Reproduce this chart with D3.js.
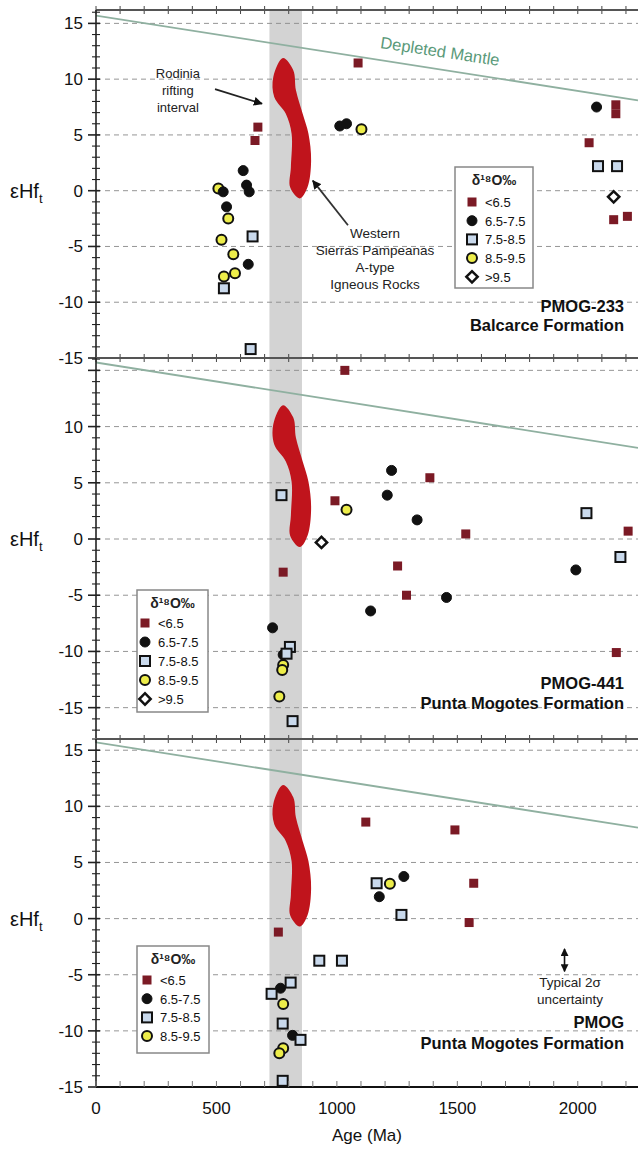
<!DOCTYPE html>
<html>
<head>
<meta charset="utf-8">
<script src="https://cdn.jsdelivr.net/npm/d3@7"></script>
<style>
  body { margin: 0; background: #fff; }
  text { font-family: "Liberation Sans", Arial, sans-serif; }
</style>
</head>
<body>
<div id="container"></div>
<script>
// ---- data: [age (Ma), eHf(t), d18O class] ----
const ageTicks = [0, 500, 1000, 1500, 2000];
const o18Classes = ["<6.5", "6.5-7.5", "7.5-8.5", "8.5-9.5", ">9.5"];
const rodiniaInterval = [720, 855];
const depletedMantle = [[0, 15.7], [2250, 8.1]];

// Western Sierras Pampeanas A-type field outline
const wspField = [
  [776, 11.9], [819, 10.8], [830, 9.0], [858, 6.9], [882, 5.1], [893, 2.7],
  [878, 0.3], [846, -0.7], [806, 0.3], [809, 2.1], [812, 5.1], [788, 6.9],
  [740, 8.4], [736, 10.2]
];

const pmog233 = [
  [672, 5.7, "<6.5"], [660, 4.5, "<6.5"], [1088, 11.45, "<6.5"],
  [2047, 4.3, "<6.5"], [2158, 7.7, "<6.5"], [2158, 6.9, "<6.5"],
  [2149, -2.6, "<6.5"], [2206, -2.3, "<6.5"],
  [611, 1.8, "6.5-7.5"], [625, 0.5, "6.5-7.5"], [636, -0.1, "6.5-7.5"],
  [632, -6.6, "6.5-7.5"], [1012, 5.8, "6.5-7.5"], [1040, 6.0, "6.5-7.5"],
  [2078, 7.5, "6.5-7.5"],
  [650, -4.1, "7.5-8.5"], [531, -8.75, "7.5-8.5"], [642, -14.2, "7.5-8.5"],
  [2084, 2.2, "7.5-8.5"], [2163, 2.2, "7.5-8.5"],
  [508, 0.2, "8.5-9.5"], [549, -2.5, "8.5-9.5"], [521, -4.4, "8.5-9.5"],
  [570, -5.7, "8.5-9.5"], [577, -7.4, "8.5-9.5"], [531, -7.7, "8.5-9.5"],
  [1102, 5.5, "8.5-9.5"],
  [528, -0.1, "6.5-7.5"], [542, -1.45, "6.5-7.5"],
  [2149, -0.55, ">9.5"]
];

const pmog441 = [
  [1033, 15.0, "<6.5"], [777, -2.95, "<6.5"], [992, 3.4, "<6.5"],
  [1386, 5.45, "<6.5"], [1535, 0.45, "<6.5"], [2209, 0.7, "<6.5"],
  [1252, -2.4, "<6.5"], [1289, -5.0, "<6.5"], [2160, -10.1, "<6.5"],
  [733, -7.9, "6.5-7.5"], [777, -10.3, "6.5-7.5"], [1227, 6.1, "6.5-7.5"],
  [1209, 3.9, "6.5-7.5"], [1333, 1.7, "6.5-7.5"], [1992, -2.75, "6.5-7.5"],
  [1455, -5.2, "6.5-7.5"], [1140, -6.4, "6.5-7.5"],
  [770, 3.9, "7.5-8.5"], [805, -9.6, "7.5-8.5"], [791, -10.2, "7.5-8.5"],
  [816, -16.2, "7.5-8.5"], [2036, 2.3, "7.5-8.5"], [2177, -1.6, "7.5-8.5"],
  [777, -11.2, "8.5-9.5"], [773, -11.65, "8.5-9.5"], [761, -14.0, "8.5-9.5"],
  [1040, 2.6, "8.5-9.5"],
  [936, -0.3, ">9.5"]
];

const pmog = [
  [757, -1.2, "<6.5"], [1120, 8.6, "<6.5"], [1490, 7.9, "<6.5"],
  [1568, 3.15, "<6.5"], [1549, -0.35, "<6.5"],
  [766, -6.2, "6.5-7.5"], [816, -10.4, "6.5-7.5"], [1278, 3.75, "6.5-7.5"],
  [1176, 1.95, "6.5-7.5"],
  [808, -5.7, "7.5-8.5"], [729, -6.7, "7.5-8.5"], [775, -9.35, "7.5-8.5"],
  [849, -10.8, "7.5-8.5"], [775, -14.45, "7.5-8.5"], [927, -3.75, "7.5-8.5"],
  [1021, -3.75, "7.5-8.5"], [1165, 3.15, "7.5-8.5"], [1268, 0.33, "7.5-8.5"],
  [777, -7.6, "8.5-9.5"], [777, -11.55, "8.5-9.5"], [761, -12.0, "8.5-9.5"],
  [1220, 3.1, "8.5-9.5"]
];

// ---- layout ----
const width = 638, height = 1149;
const left = 96, right = 638;

const svg = d3.select("#container")
  .append("svg")
  .attr("width", width)
  .attr("height", height);

const defs = svg.append("defs");
defs.append("marker")
  .attr("id", "arrow")
  .attr("viewBox", "0 0 10 10")
  .attr("refX", 9).attr("refY", 5)
  .attr("markerWidth", 5).attr("markerHeight", 5)
  .attr("orient", "auto-start-reverse")
  .append("path")
  .attr("d", "M0,0L10,5L0,10z")
  .attr("fill", "#111");

const x = d3.scaleLinear().domain([0, 2250]).range([left, right]);

const style = {
  "<6.5":    { shape: "square",  size: 9,  fill: "#7b1a25", stroke: "none", sw: 0 },
  "6.5-7.5": { shape: "circle",  size: 10, fill: "#111",    stroke: "#111", sw: 1 },
  "7.5-8.5": { shape: "square",  size: 10, fill: "#c9d9ec", stroke: "#111", sw: 2 },
  "8.5-9.5": { shape: "circle",  size: 10, fill: "#eded4a", stroke: "#111", sw: 2 },
  ">9.5":    { shape: "diamond", size: 8,  fill: "#fff",    stroke: "#111", sw: 2.5 }
};

function mark(g, cls, cx, cy) {
  const s = style[cls];
  let el;
  if (s.shape === "circle") {
    el = g.append("circle").attr("cx", cx).attr("cy", cy).attr("r", s.size / 2);
  } else {
    el = g.append("rect")
      .attr("x", cx - s.size / 2).attr("y", cy - s.size / 2)
      .attr("width", s.size).attr("height", s.size);
    if (s.shape === "diamond") el.attr("transform", `rotate(45,${cx},${cy})`);
  }
  el.attr("fill", s.fill).attr("stroke", s.stroke).attr("stroke-width", s.sw);
}

const panels = [
  { id: "p1", data: pmog233, top: 10, bottom: 358, domain: [-15, 16.2], maxLabel: 15,
    label: ["PMOG-233", "Balcarce Formation"], labelY: [312, 331],
    legend: { x: 455, y: 167, w: 78, h: 121, sym: 472, txt: 485, first: 202, step: 18.7, n: 5 } },
  { id: "p2", data: pmog441, top: 358, bottom: 738, domain: [-17.7, 16.1], maxLabel: 10,
    label: ["PMOG-441", "Punta Mogotes Formation"], labelY: [689, 709],
    legend: { x: 137, y: 590, w: 71, h: 122, sym: 145, txt: 158, first: 623, step: 19, n: 5 } },
  { id: "p3", data: pmog, top: 739, bottom: 1087, domain: [-15, 16], maxLabel: 15,
    label: ["PMOG", "Punta Mogotes Formation"], labelY: [1028, 1049],
    legend: { x: 137, y: 946, w: 72, h: 107, sym: 147, txt: 160, first: 980, step: 18.7, n: 4 } }
];

panels.forEach((p, i) => {
  const y = d3.scaleLinear().domain(p.domain).range([p.bottom, p.top]);
  const g = svg.append("g");

  defs.append("clipPath").attr("id", "clip-" + p.id)
    .append("rect").attr("x", left).attr("y", p.top)
    .attr("width", right - left).attr("height", p.bottom - p.top);
  const plot = g.append("g").attr("clip-path", `url(#clip-${p.id})`);

  // Rodinia rifting band
  plot.append("rect")
    .attr("x", x(rodiniaInterval[0])).attr("y", p.top)
    .attr("width", x(rodiniaInterval[1]) - x(rodiniaInterval[0]))
    .attr("height", p.bottom - p.top)
    .attr("fill", "#d3d3d3");

  // dashed gridlines
  const grid = d3.range(-15, 16, 5).filter(v => y(v) > p.top + 2 && y(v) < p.bottom - 2);
  plot.selectAll(".grid").data(grid).join("line")
    .attr("x1", left).attr("x2", right)
    .attr("y1", d => y(d)).attr("y2", d => y(d))
    .attr("stroke", "#8a8a8a").attr("stroke-width", 0.9)
    .attr("stroke-dasharray", "5,4");

  // depleted mantle
  plot.append("line")
    .attr("x1", x(depletedMantle[0][0])).attr("y1", y(depletedMantle[0][1]))
    .attr("x2", x(depletedMantle[1][0])).attr("y2", y(depletedMantle[1][1]))
    .attr("stroke", "#8fb0a0").attr("stroke-width", 1.8);

  // WSP A-type field
  plot.append("path")
    .datum(wspField)
    .attr("d", d3.line().x(d => x(d[0])).y(d => y(d[1])).curve(d3.curveCatmullRomClosed.alpha(0.5)))
    .attr("fill", "#c0141c");

  // data points
  const pts = plot.append("g");
  p.data.forEach(d => mark(pts, d[2], x(d[0]), y(d[1])));

  // y axis: minor ticks every 1, major every 5
  const yt = d3.range(Math.ceil(p.domain[0]), Math.floor(p.domain[1]) + 1);
  g.selectAll(".yt").data(yt).join("line")
    .attr("x1", d => d % 5 === 0 ? left - 8 : left - 4)
    .attr("x2", left + 4)
    .attr("y1", d => y(d)).attr("y2", d => y(d))
    .attr("stroke", "#222").attr("stroke-width", d => d % 5 === 0 ? 1.6 : 1.1);
  g.selectAll(".yl").data(yt.filter(d => d % 5 === 0 && d >= -15 && d <= p.maxLabel)).join("text")
    .attr("x", 83).attr("y", d => y(d) + 6)
    .attr("text-anchor", "end").attr("font-size", 17).attr("fill", "#111")
    .text(d => d);

  // y label
  const yl = g.append("text").attr("x", 10).attr("y", y(0) + 7)
    .attr("font-size", 20).attr("fill", "#111");
  yl.append("tspan").text("εHf");
  yl.append("tspan").attr("dy", 5).attr("font-size", 13).text("t");

  // x ticks at the panel top
  const xt = d3.range(0, 2300, 100);
  g.selectAll(".xt").data(xt).join("line")
    .attr("x1", d => x(d)).attr("x2", d => x(d))
    .attr("y1", p.top - 4).attr("y2", p.top + 4)
    .attr("stroke", "#444").attr("stroke-width", 1);

  // frame
  g.append("line").attr("x1", left).attr("x2", right)
    .attr("y1", p.top).attr("y2", p.top)
    .attr("stroke", "#555").attr("stroke-width", 2);
  g.append("line").attr("x1", left).attr("x2", left)
    .attr("y1", p.top).attr("y2", p.bottom)
    .attr("stroke", "#222").attr("stroke-width", 1.6);

  // panel label
  g.selectAll(".pl").data(p.label).join("text")
    .attr("x", 624).attr("y", (d, j) => p.labelY[j])
    .attr("text-anchor", "end").attr("font-size", 16.5)
    .attr("font-weight", "bold").attr("fill", "#111")
    .text(d => d);

  // legend
  const L = p.legend;
  const lg = g.append("g");
  lg.append("rect").attr("x", L.x).attr("y", L.y).attr("width", L.w).attr("height", L.h)
    .attr("fill", "#fff").attr("stroke", "#888").attr("stroke-width", 1.5);
  lg.append("text").attr("x", L.x + L.w / 2).attr("y", L.y + 18)
    .attr("text-anchor", "middle").attr("font-size", 14).attr("font-weight", "bold")
    .attr("fill", "#222").text("δ¹⁸O‰");
  o18Classes.slice(0, L.n).forEach((c, j) => {
    const cy = L.first + j * L.step;
    mark(lg, c, L.sym, cy);
    lg.append("text").attr("x", L.txt).attr("y", cy + 5)
      .attr("font-size", 13).attr("fill", "#111").text(c);
  });

  p.y = y;
  p.g = g;
});

// bottom x axis
const p3 = panels[2];
svg.append("line").attr("x1", left).attr("x2", right)
  .attr("y1", p3.bottom).attr("y2", p3.bottom)
  .attr("stroke", "#111").attr("stroke-width", 2);
svg.selectAll(".bt").data(d3.range(0, 2300, 100)).join("line")
  .attr("x1", d => x(d)).attr("x2", d => x(d))
  .attr("y1", p3.bottom - 6).attr("y2", p3.bottom)
  .attr("stroke", "#777").attr("stroke-width", 1);
svg.selectAll(".bl").data(ageTicks).join("text")
  .attr("x", d => x(d)).attr("y", 1114)
  .attr("text-anchor", "middle").attr("font-size", 17).attr("fill", "#111")
  .text(d => d);
svg.append("text").attr("x", 367).attr("y", 1141)
  .attr("text-anchor", "middle").attr("font-size", 17).attr("fill", "#111")
  .text("Age (Ma)");

// ---- annotations ----
const y1 = panels[0].y, g1 = panels[0].g;
g1.append("text").attr("x", 440).attr("y", 57)
  .attr("text-anchor", "middle").attr("font-size", 16.5).attr("fill", "#5a9a7a")
  .attr("transform", "rotate(8.5,440,52)")
  .text("Depleted Mantle");

g1.selectAll(".rod").data(["Rodinia", "rifting", "interval"]).join("text")
  .attr("x", x(340)).attr("y", (d, j) => y1(10.1) + j * 17)
  .attr("text-anchor", "middle").attr("font-size", 13).attr("fill", "#222")
  .text(d => d);
g1.append("line")
  .attr("x1", x(494)).attr("y1", y1(9.1)).attr("x2", x(689)).attr("y2", y1(7.8))
  .attr("stroke", "#222").attr("stroke-width", 1.8).attr("marker-end", "url(#arrow)");

g1.selectAll(".wsp").data(["Western", "Sierras Pampeanas", "A-type", "Igneous Rocks"]).join("text")
  .attr("x", 375).attr("y", (d, j) => y1(-4.2) + j * 17.3)
  .attr("text-anchor", "middle").attr("font-size", 13.5).attr("fill", "#222")
  .text(d => d);
g1.append("line")
  .attr("x1", x(1046)).attr("y1", y1(-3.1)).attr("x2", x(900)).attr("y2", y1(0.9))
  .attr("stroke", "#333").attr("stroke-width", 1.8).attr("marker-end", "url(#arrow)");

// typical 2 sigma uncertainty
const y3 = panels[2].y, g3 = panels[2].g;
g3.append("line")
  .attr("x1", x(1945)).attr("x2", x(1945)).attr("y1", y3(-2.7)).attr("y2", y3(-4.7))
  .attr("stroke", "#111").attr("stroke-width", 1.6)
  .attr("marker-start", "url(#arrow)").attr("marker-end", "url(#arrow)");
g3.selectAll(".unc").data(["Typical 2σ", "uncertainty"]).join("text")
  .attr("x", 570).attr("y", (d, j) => y3(-6.1) + j * 17)
  .attr("text-anchor", "middle").attr("font-size", 13.5).attr("fill", "#222")
  .text(d => d);
</script>
</body>
</html>
